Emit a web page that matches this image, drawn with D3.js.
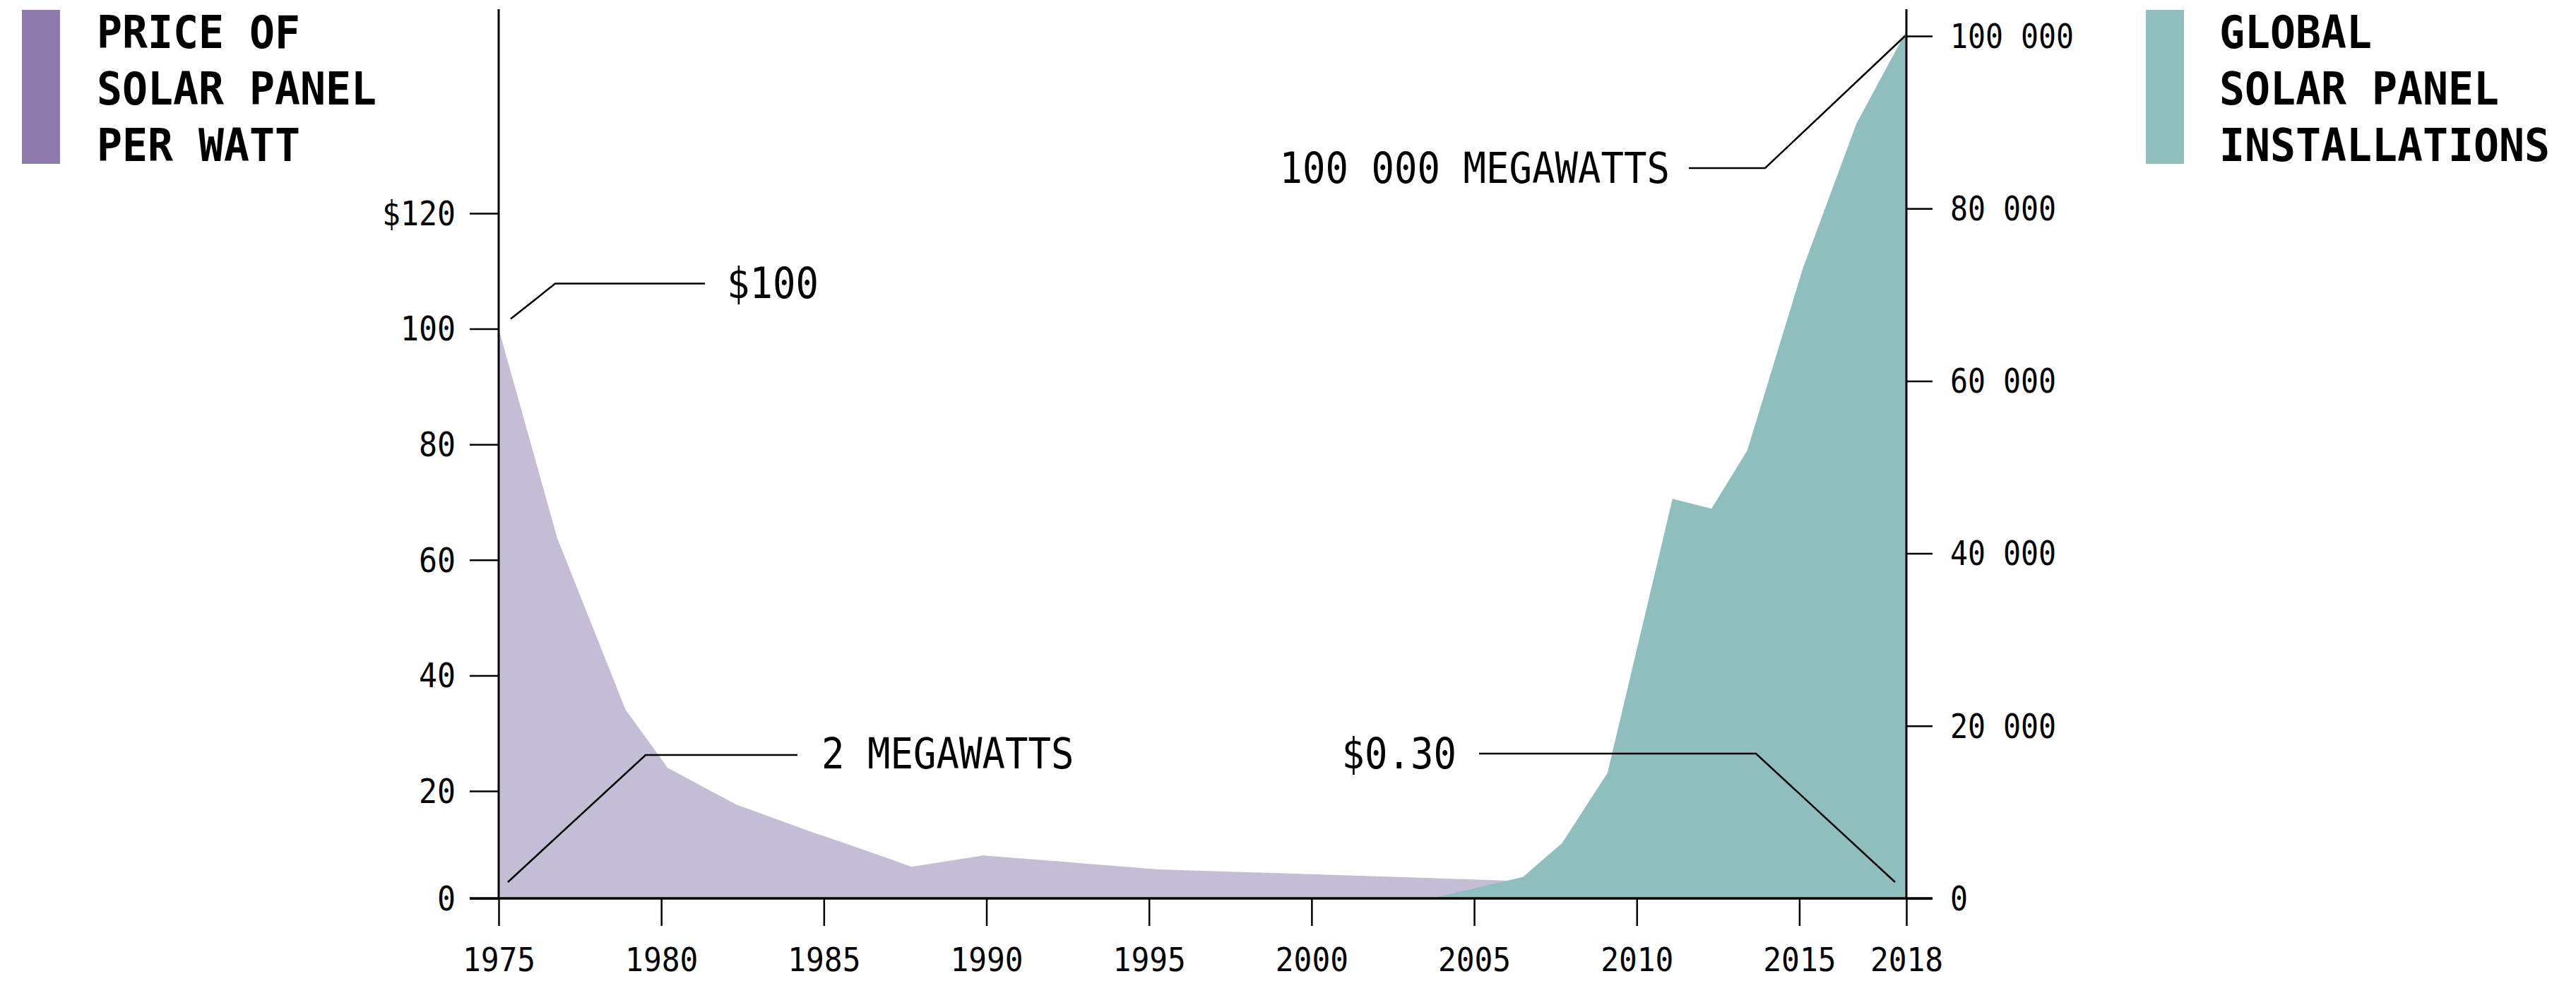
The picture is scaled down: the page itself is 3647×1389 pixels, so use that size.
<!DOCTYPE html>
<html>
<head>
<meta charset="utf-8">
<script src="https://cdn.jsdelivr.net/npm/d3@7"></script>
<style>
  html, body { margin: 0; padding: 0; background: #ffffff; }
  svg { display: block; }
</style>
</head>
<body>
<svg id="chart" width="3647" height="1389"></svg>
<script>
// ---------------- DATA ----------------
const priceYears   = [1975, 1976.8, 1978.9, 1980.2, 1982.3, 1984.7, 1985.4, 1987.7, 1989.9, 1995.3, 2006.1, 2018];
const priceValues  = [100, 63.8, 34.1, 24.0, 17.5, 12.2, 10.8, 5.9, 8.0, 5.4, 3.3, 0.3];

const installYears  = [2003.7, 2006.5, 2007.7, 2009.1, 2011.1, 2012.3, 2013.4, 2015.1, 2016.6, 2018];
const installValues = [0, 2480, 6390, 14530, 46330, 45180, 51940, 73050, 89840, 100600];

const yearTicks    = [1975, 1980, 1985, 1990, 1995, 2000, 2005, 2010, 2015, 2018];
const priceTicks   = [0, 20, 40, 60, 80, 100, 120];
const installTicks = [0, 20000, 40000, 60000, 80000, 100000];

const legendLeft  = ["PRICE OF", "SOLAR PANEL", "PER WATT"];
const legendRight = ["GLOBAL", "SOLAR PANEL", "INSTALLATIONS"];

const annPriceStart = {label: "$100", year: 1975, value: 100};
const annPriceEnd   = {label: "$0.30", year: 2018, value: 0.3};
const annInstStart  = {label: "2 MEGAWATTS", year: 1975, value: 2};
const annInstEnd    = {label: "100\u2009000 MEGAWATTS", year: 2018, value: 100000};

// ---------------- STYLE ----------------
const PURPLE_AREA = "#c5bcd6";
const PURPLE_SW   = "#8d7bae";
const TEAL_AREA   = "#8ebebd";
const TEAL_SW     = "#8ebfbe";
const FONT = "'DejaVu Sans Mono', 'Liberation Mono', monospace";

const svg = d3.select("#chart");
svg.append("rect").attr("width", 3647).attr("height", 1389).attr("fill", "#fff");

// ---------------- SCALES ----------------
const baseY = 1272;
const x = d3.scaleLinear().domain([1975, 2015, 2018]).range([706, 2547.4, 2699]);
const yP = d3.scaleLinear().domain([0, 20, 120]).range([baseY, 1120, 302]);
const yI = d3.scaleLinear().domain([0, 100000]).range([baseY, 51]);

const fmtI = d3.formatLocale({decimal: ".", thousands: "\u2009", grouping: [3], currency: ["$", ""]}).format(",d");

// ---------------- AREAS ----------------
const priceData = priceYears.map((y, i) => ({year: y, v: priceValues[i]}));
const instData  = installYears.map((y, i) => ({year: y, v: installValues[i]}));

svg.append("path")
  .datum(priceData)
  .attr("fill", PURPLE_AREA)
  .attr("d", d3.area().x(d => x(d.year)).y0(baseY).y1(d => yP(d.v)));

svg.append("path")
  .datum(instData)
  .attr("fill", TEAL_AREA)
  .attr("d", d3.area().x(d => x(d.year)).y0(baseY).y1(d => yI(d.v)));

// ---------------- AXES ----------------
function styleText(sel, size, charW) {
  sel.attr("font-family", FONT)
     .attr("font-size", size)
     .attr("fill", "#000")
     .attr("lengthAdjust", "spacingAndGlyphs")
     .attr("textLength", function() { return this.textContent.length * charW; });
}

const gL = svg.append("g").attr("transform", `translate(${x(1975)},0)`)
  .call(d3.axisLeft(yP).tickValues(priceTicks).tickSize(41).tickPadding(20)
        .tickFormat(d => d === 120 ? "$" + d : String(d)));
gL.select(".domain").remove();
gL.selectAll(".tick line").attr("stroke", "#000").attr("stroke-width", 2.5);
gL.selectAll(".tick text").call(styleText, 48, 26).attr("dy", "0.34em");

const gR = svg.append("g").attr("transform", `translate(${x(2018)},0)`)
  .call(d3.axisRight(yI).tickValues(installTicks).tickSize(37).tickPadding(25)
        .tickFormat(d => fmtI(d)));
gR.select(".domain").remove();
gR.selectAll(".tick line").attr("stroke", "#000").attr("stroke-width", 2.5);
gR.selectAll(".tick text").call(styleText, 48, 25).attr("dy", "0.34em");

const gB = svg.append("g").attr("transform", `translate(0,${baseY})`)
  .call(d3.axisBottom(x).tickValues(yearTicks).tickSize(39).tickPadding(31)
        .tickFormat(d => String(d)));
gB.select(".domain").remove();
gB.selectAll(".tick line").attr("stroke", "#000").attr("stroke-width", 2.5);
gB.selectAll(".tick text").call(styleText, 47, 25.8);

// axis lines
svg.append("line").attr("x1", x(1975)).attr("x2", x(1975)).attr("y1", 13).attr("y2", baseY)
  .attr("stroke", "#000").attr("stroke-width", 3);
svg.append("line").attr("x1", x(2018)).attr("x2", x(2018)).attr("y1", 13).attr("y2", baseY)
  .attr("stroke", "#000").attr("stroke-width", 3);
svg.append("line").attr("x1", x(1975) - 41).attr("x2", x(2018) + 37).attr("y1", baseY).attr("y2", baseY)
  .attr("stroke", "#000").attr("stroke-width", 3.5);

// ---------------- ANNOTATIONS ----------------
const lineGen = d3.line();
function annotate(points, label, tx, ty, anchor) {
  svg.append("path").attr("d", lineGen(points)).attr("fill", "none")
    .attr("stroke", "#000").attr("stroke-width", 2.5);
  svg.append("text").attr("x", tx).attr("y", ty).attr("text-anchor", anchor)
    .text(label).call(styleText, 60, 32.5);
}

{ // $100
  const px = x(annPriceStart.year), py = yP(annPriceStart.value);
  annotate([[px + 17, py - 14], [px + 80, py - 64], [px + 292, py - 64]],
           annPriceStart.label, px + 323, py - 44, "start");
}
{ // 2 MEGAWATTS
  const px = x(annInstStart.year);
  annotate([[px + 13, baseY - 23], [px + 208, baseY - 203], [px + 423, baseY - 203]],
           annInstStart.label, px + 457, baseY - 184, "start");
}
{ // 100 000 MEGAWATTS
  const px = x(annInstEnd.year), py = yI(annInstEnd.value);
  annotate([[px - 2, py], [px - 200, py + 187], [px - 308, py + 187]],
           annInstEnd.label, px - 335, py + 208, "end");
}
{ // $0.30
  const px = x(annPriceEnd.year);
  annotate([[px - 16, baseY - 23], [px - 213, baseY - 205], [px - 605, baseY - 205]],
           annPriceEnd.label, px - 637, baseY - 184, "end");
}

// ---------------- LEGENDS ----------------
function legend(x0, textX, color, lines) {
  svg.append("rect").attr("x", x0).attr("y", 14).attr("width", 54).attr("height", 218).attr("fill", color);
  lines.forEach((t, i) => {
    svg.append("text").attr("x", textX).attr("y", 68 + i * 80)
      .attr("font-weight", "bold").text(t).call(styleText, 64, 36);
  });
}
legend(31, 137, PURPLE_SW, legendLeft);
legend(3038, 3142, TEAL_SW, legendRight);
</script>
</body>
</html>
